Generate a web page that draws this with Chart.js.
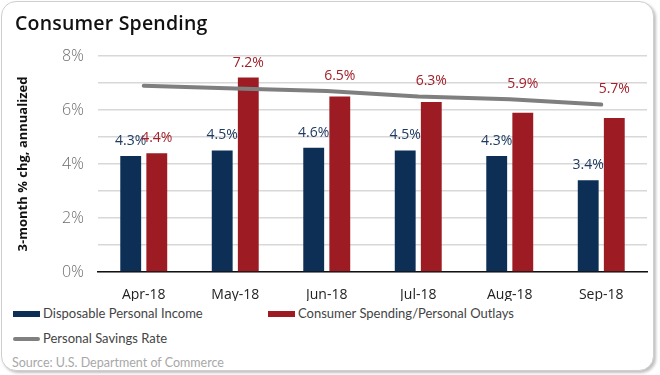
<!DOCTYPE html>
<html>
<head>
<meta charset="utf-8">
<script src="https://cdn.jsdelivr.net/npm/chart.js@4"></script>
<style>
  body { margin: 0; background: #fff; font-family: "Open Sans", sans-serif; }
  #card {
    position: absolute; left: 1px; top: 1px; width: 651px; height: 368px;
    border: 1px solid #cfcfcf; border-radius: 15px;
    box-shadow: 2px 2px 3px rgba(0,0,0,0.25); overflow: hidden; background: #fff;
  }
  #wrap { position: absolute; left: -1px; top: -1px; width: 660px; height: 300px; }
  #title { position: absolute; left: 13px; top: 7px; font-size: 19.5px; font-weight: 600; color: #111; letter-spacing: 0.2px; }
  .legend { position: absolute; font-family: Lato, sans-serif; font-size: 13px; color: #444; white-space: nowrap; }
  .sw { display: inline-block; width: 27px; height: 6px; vertical-align: middle; margin-right: 3px; position: relative; top: -1px; }
  #source { position: absolute; left: 10px; top: 353px; font-family: Lato, sans-serif; font-size: 12.5px; color: #a8a8a8; }
</style>
</head>
<body>
<div id="card">
  <div id="wrap"><canvas id="chart"></canvas></div>
  <div id="title">Consumer Spending</div>
  <div class="legend" style="left:11px;top:303px"><span class="sw" style="background:#0d2f56"></span>Disposable Personal Income</div>
  <div class="legend" style="left:266px;top:303px"><span class="sw" style="background:#9d1c24"></span>Consumer Spending/Personal Outlays</div>
  <div class="legend" style="left:11px;top:328px"><span class="sw" style="background:#808080;height:4px;border-radius:2px"></span>Personal Savings Rate</div>
  <div id="source">Source: U.S. Department of Commerce</div>
</div>
<script>
// Data
const months = ['Apr-18', 'May-18', 'Jun-18', 'Jul-18', 'Aug-18', 'Sep-18'];
const incomeVals = [4.3, 4.5, 4.6, 4.5, 4.3, 3.4];
const spendingVals = [4.4, 7.2, 6.5, 6.3, 5.9, 5.7];
const savingsVals = [6.9, 6.8, 6.7, 6.5, 6.4, 6.2];

const BLUE = '#0d2f56';
const RED = '#9d1c24';

// y of the savings line at a given x (for keeping labels off the line)
function lineYAt(chart, x) {
    const pts = chart.getDatasetMeta(2).data;
    if (x <= pts[0].x) return pts[0].y;
    for (let k = 1; k < pts.length; k++) {
        if (x <= pts[k].x) {
            const t = (x - pts[k - 1].x) / (pts[k].x - pts[k - 1].x);
            return pts[k - 1].y + t * (pts[k].y - pts[k - 1].y);
        }
    }
    return pts[pts.length - 1].y;
}

// value labels above the bars
const barLabels = {
    id: 'barLabels',
    afterDatasetsDraw(chart) {
        const ctx = chart.ctx;
        ctx.save();
        ctx.font = '14px "Open Sans", sans-serif';
        ctx.textAlign = 'center';
        ctx.textBaseline = 'bottom';
        [0, 1].forEach(i => {
            const meta = chart.getDatasetMeta(i);
            const ds = chart.data.datasets[i];
            ctx.fillStyle = i === 0 ? '#1f3b62' : '#a3202a';
            meta.data.forEach((bar, j) => {
                let y = bar.y - 8;
                const ly = lineYAt(chart, bar.x);
                // label would sit on the line: lift it above the line
                if (ly > y - 18 && ly < bar.y) y = ly - 9;
                ctx.fillText(ds.data[j].toFixed(1) + '%', bar.x, y);
            });
        });
        ctx.restore();
    }
};

const ctx = document.getElementById('chart').getContext('2d');
new Chart(ctx, {
    data: {
        labels: months,
        datasets: [
            {
                type: 'bar',
                label: 'Disposable Personal Income',
                data: incomeVals,
                backgroundColor: BLUE,
                categoryPercentage: 0.57,
                barPercentage: 0.8,
                order: 1
            },
            {
                type: 'bar',
                label: 'Consumer Spending/Personal Outlays',
                data: spendingVals,
                backgroundColor: RED,
                categoryPercentage: 0.57,
                barPercentage: 0.8,
                order: 1
            },
            {
                type: 'line',
                label: 'Personal Savings Rate',
                data: savingsVals,
                borderColor: '#7f7f7f',
                borderWidth: 4,
                pointRadius: 0,
                tension: 0,
                borderCapStyle: 'round',
                order: 0
            }
        ]
    },
    options: {
        responsive: true,
        maintainAspectRatio: false,
        animation: false,
        layout: { padding: { top: 55, right: 14, left: 10, bottom: 0 } },
        plugins: {
            legend: { display: false },
            tooltip: { enabled: false }
        },
        scales: {
            x: {
                grid: { display: false },
                border: { color: '#111', width: 1.5 },
                ticks: { color: '#222', font: { size: 14, family: 'Open Sans' }, padding: 7 },
                afterFit(scale) { scale.height = 29; }
            },
            y: {
                min: 0,
                max: 8,
                grid: { color: '#d8d8d8', lineWidth: 1.5, drawTicks: false },
                border: { display: false },
                ticks: {
                    stepSize: 1,
                    padding: 14,
                    color: '#6e6e6e',
                    font: { size: 16, family: 'Open Sans', weight: 300 },
                    callback: v => (v % 2 === 0 ? v + '%' : '')
                },
                title: {
                    display: true,
                    text: '3-month % chg, annualized',
                    color: '#111',
                    font: { size: 13, weight: 'bold', family: 'Open Sans' }
                },
                afterFit(scale) { scale.width = 87; }
            }
        }
    },
    plugins: [barLabels]
});
</script>
</body>
</html>
